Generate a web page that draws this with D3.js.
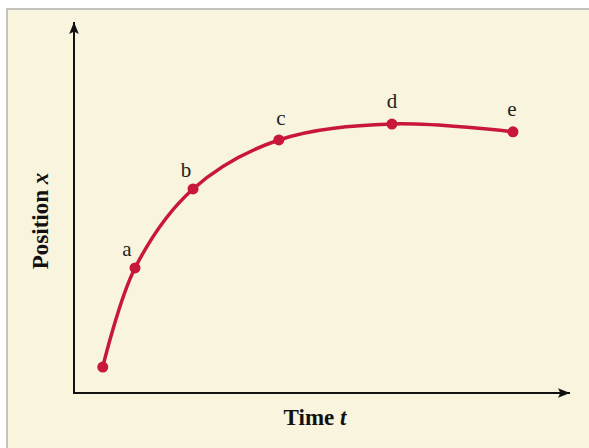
<!DOCTYPE html>
<html><head><meta charset="utf-8">
<script src="https://cdn.jsdelivr.net/npm/d3@7"></script>
<style>html,body{margin:0;padding:0;background:#fff;}svg{display:block;}</style>
</head><body>
<script>
const labels = ["", "a", "b", "c", "d", "e"];
const timeValues = [0.58, 1.23, 2.40, 4.13, 6.41, 8.85];
const positionValues = [0.70, 3.37, 5.50, 6.82, 7.25, 7.04];
const xTitle = "Time ";
const xVar = "t";
const yTitle = "Position ";
const yVar = "x";

const W = 589, H = 448;
const svg = d3.select("body").append("svg").attr("width", W).attr("height", H);

// panel
svg.append("rect").attr("x", 7).attr("y", 9).attr("width", W).attr("height", H)
  .attr("fill", "#f8f4de").attr("stroke", "#c3c3bb").attr("stroke-width", 2);

const ox = 74, oy = 393;
const x = d3.scaleLinear().domain([0, 10]).range([ox, 570]);
const y = d3.scaleLinear().domain([0, 10]).range([oy, 22]);

const defs = svg.append("defs");
defs.append("marker").attr("id", "arr").attr("viewBox", "0 0 10 10")
  .attr("refX", 10).attr("refY", 5).attr("markerWidth", 6).attr("markerHeight", 6)
  .attr("markerUnits", "strokeWidth").attr("orient", "auto")
  .append("path").attr("d", "M0,1 L10,5 L0,9 L2,5 Z").attr("fill", "#111");

// axes
svg.append("line").attr("x1", x(0)).attr("y1", y(0)).attr("x2", x(10)).attr("y2", y(0))
  .attr("stroke", "#111").attr("stroke-width", 2).attr("marker-end", "url(#arr)");
svg.append("line").attr("x1", x(0)).attr("y1", y(0) + 1).attr("x2", x(0)).attr("y2", y(10))
  .attr("stroke", "#111").attr("stroke-width", 2).attr("marker-end", "url(#arr)");

const pts = timeValues.map((t, i) => [x(t), y(positionValues[i])]);
const red = "#c8173a";

svg.append("path").attr("d", d3.line().curve(d3.curveCatmullRom.alpha(0.5))(pts))
  .attr("fill", "none").attr("stroke", red).attr("stroke-width", 3.5);

svg.selectAll("circle.pt").data(pts).join("circle").attr("class", "pt")
  .attr("cx", d => d[0]).attr("cy", d => d[1]).attr("r", 5.5).attr("fill", red);

const labOff = [[0,0],[-8,-12],[-7,-12],[2,-15],[0,-16],[-1,-16]];
svg.selectAll("text.lab").data(pts).join("text").attr("class", "lab")
  .attr("x", (d, i) => d[0] + labOff[i][0]).attr("y", (d, i) => d[1] + labOff[i][1])
  .attr("text-anchor", "middle").attr("font-family", "Liberation Serif, serif")
  .attr("font-size", 21).attr("fill", "#222").text((d, i) => labels[i]);

const xt = svg.append("text").attr("x", 315).attr("y", 425).attr("text-anchor", "middle")
  .attr("font-family", "Liberation Serif, serif").attr("font-size", 23).attr("font-weight", "bold").attr("fill", "#111");
xt.append("tspan").text(xTitle);
xt.append("tspan").attr("font-style", "italic").text(xVar);

const yt = svg.append("text").attr("transform", "translate(48,221) rotate(-90)").attr("text-anchor", "middle")
  .attr("font-family", "Liberation Serif, serif").attr("font-size", 23).attr("font-weight", "bold").attr("fill", "#111");
yt.append("tspan").text(yTitle);
yt.append("tspan").attr("font-style", "italic").text(yVar);
</script>
</body></html>
